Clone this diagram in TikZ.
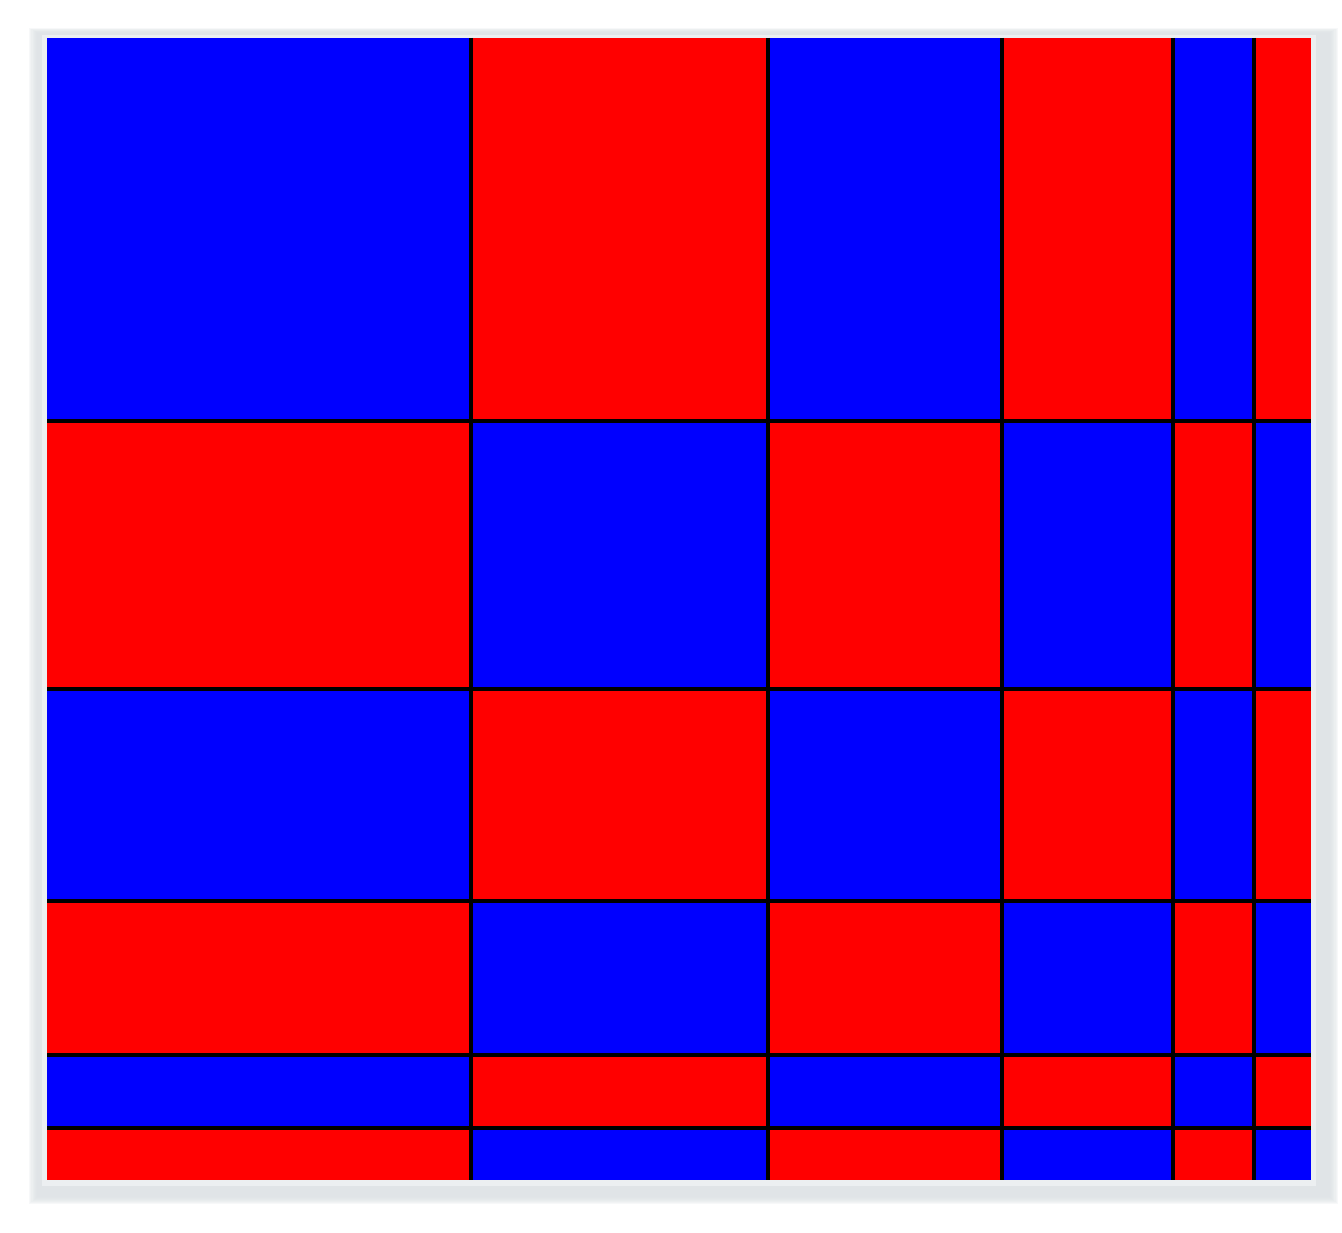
\documentclass[tikz,border=0pt]{standalone}
\definecolor{shadowgray}{RGB}{222,226,230}
\definecolor{innergray}{RGB}{236,239,241}
\begin{document}
\begin{tikzpicture}[x=1pt,y=-1pt,
  cellblue/.style={fill={rgb,255:red,0;green,0;blue,255}},
  cellred/.style={fill={rgb,255:red,255;green,0;blue,0}},
  shadowcol/.style={fill=shadowgray},
  gridline/.style={draw=black,line width=3.5pt}]
\useasboundingbox (0,0) rectangle (1342,1233);
\fill[white] (0,0) rectangle (1342,1233);
% soft shadow frame
\foreach \i in {0,2,...,14}{
  \fill[shadowcol,opacity=0.22] (29+\i*0.6,28+\i*0.35) rectangle (1338-\i*0.6,1204-\i*0.5);
}
\fill[innergray] (42,35) rectangle (1316,1186);
\def\xs{{47,471,768,1002,1173,1254,1311}}
\def\ys{{38,421,689,901,1055,1128,1180}}
\foreach \c in {0,...,5}{
  \foreach \r in {0,...,5}{
    \pgfmathsetmacro{\xa}{\xs[\c]}
    \pgfmathsetmacro{\xb}{\xs[\c+1]}
    \pgfmathsetmacro{\ya}{\ys[\r]}
    \pgfmathsetmacro{\yb}{\ys[\r+1]}
    \pgfmathtruncatemacro{\parity}{mod(\c+\r,2)}
    \ifnum\parity=0
      \fill[cellblue] (\xa,\ya) rectangle (\xb,\yb);
    \else
      \fill[cellred] (\xa,\ya) rectangle (\xb,\yb);
    \fi
  }
}
\foreach \x in {471,768,1002,1173,1254}{
  \draw[gridline] (\x,38) -- (\x,1180);
}
\foreach \y in {421,689,901,1055,1128}{
  \draw[gridline] (47,\y) -- (1311,\y);
}
\end{tikzpicture}
\end{document}
